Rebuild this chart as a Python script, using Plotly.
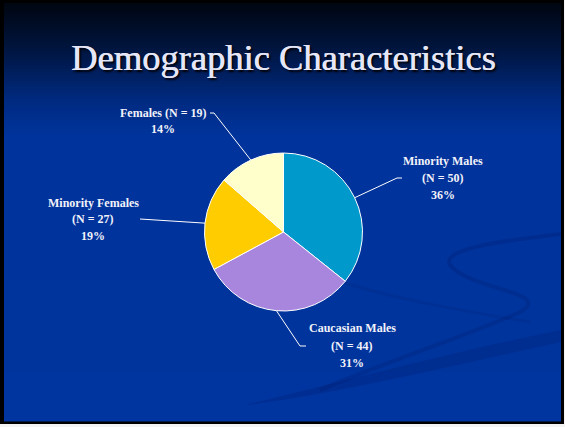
import plotly.graph_objects as go
import math

# ---- data ----
categories = ["Minority Males", "Caucasian Males", "Minority Females", "Females"]
counts = [50, 44, 27, 19]
colors = ["#0099CC", "#A986DE", "#FFCC00", "#FFFFCC"]
title_text = "Demographic Characteristics"

W, H = 565, 427
total = sum(counts)
pcts = [round(c / total * 100) for c in counts]

# pie geometry (pixels)
CX, CY, R = 283.5, 232.0, 79.0

def px(x):
    return x / W

def py(y):
    return 1 - y / H

fig = go.Figure()

fig.add_trace(go.Pie(
    labels=categories,
    values=counts,
    sort=False,
    direction="clockwise",
    rotation=0,
    marker=dict(colors=colors, line=dict(color="white", width=1)),
    textinfo="none",
    hoverinfo="label+value+percent",
    showlegend=False,
    domain=dict(x=[px(CX - R), px(CX + R)], y=[py(CY + R), py(CY - R)]),
))

shapes = []
# frame + gradient background
shapes.append(dict(type="rect", xref="paper", yref="paper", x0=0, x1=px(564), y0=py(424), y1=1,
                   fillcolor="black", line=dict(width=0), layer="below"))
stops = [(3, (0, 5, 16)), (50, (0, 21, 64)), (100, (0, 42, 128)), (135, (0, 51, 155)), (421, (0, 52, 158))]

def grad(y):
    for (y0, c0), (y1, c1) in zip(stops[:-1], stops[1:]):
        if y0 <= y <= y1:
            t = (y - y0) / (y1 - y0)
            return tuple(int(round(a + (b - a) * t)) for a, b in zip(c0, c1))
    return stops[-1][1]

step = 3
y = 3
while y < 421:
    y2 = min(y + step, 421)
    c = grad((y + y2) / 2)
    shapes.append(dict(type="rect", xref="paper", yref="paper", x0=px(4), x1=px(561),
                       y0=py(y2 + 0.5), y1=py(y), fillcolor="rgb(%d,%d,%d)" % c,
                       line=dict(width=0), layer="below"))
    y = y2

# subtle background swooshes
def path(pts, start="M"):
    s = "%s %f,%f" % (start, px(pts[0][0]), py(pts[0][1]))
    rest = pts[1:]
    for i in range(0, len(rest), 3):
        a, b, c = rest[i:i + 3]
        s += " C %f,%f %f,%f %f,%f" % (px(a[0]), py(a[1]), px(b[0]), py(b[1]), px(c[0]), py(c[1]))
    return s

sw = "rgba(0,25,100,0.22)"
shapes.append(dict(type="path", xref="paper", yref="paper", layer="below",
                   path=path([(245, 405), (330, 385), (450, 352), (561, 330)]) +
                   path([(561, 342), (450, 366), (330, 395), (245, 405)], start=" L") + " Z",
                   fillcolor=sw, line=dict(width=0)))
shapes.append(dict(type="path", xref="paper", yref="paper", layer="below",
                   path=path([(320, 390), (390, 360), (470, 335), (520, 312),
                              (555, 292), (470, 290), (450, 265),
                              (440, 248), (510, 240), (561, 234)]),
                   line=dict(color=sw, width=4)))
shapes.append(dict(type="path", xref="paper", yref="paper", layer="below",
                   path=path([(345, 283), (400, 300), (470, 312), (530, 322)]),
                   line=dict(color="rgba(0,25,100,0.15)", width=3)))

# leader lines from slice mid-angles
label_layout = [
    dict(cx=443, ys=[161, 178, 195], pts=[(397, 178), (402, 178)]),
    dict(cx=352, ys=[328, 346, 363], pts=[(300, 346), (306, 346)]),
    dict(cx=93, ys=[203, 219, 236], pts=[(140, 219)]),
    dict(cx=163, ys=[113, 129], pts=[(214, 113), (210, 113)]),
]
label_lines = [
    [categories[0], "(N = %d)" % counts[0], "%d%%" % pcts[0]],
    [categories[1], "(N = %d)" % counts[1], "%d%%" % pcts[1]],
    [categories[2], "(N = %d)" % counts[2], "%d%%" % pcts[2]],
    ["%s (N = %d)" % (categories[3], counts[3]), "%d%%" % pcts[3]],
]

annotations = []
cum = 0
for i, c in enumerate(counts):
    mid = (cum + c / 2) / total * 2 * math.pi
    cum += c
    ex = CX + R * math.sin(mid)
    ey = CY - R * math.cos(mid)
    pts = [(ex, ey)] + label_layout[i]["pts"]
    d = "M %f,%f" % (px(pts[0][0]), py(pts[0][1]))
    for p in pts[1:]:
        d += " L %f,%f" % (px(p[0]), py(p[1]))
    shapes.append(dict(type="path", xref="paper", yref="paper", path=d,
                       line=dict(color="white", width=1)))
    for txt, yy in zip(label_lines[i], label_layout[i]["ys"]):
        annotations.append(dict(text="<b>%s</b>" % txt, x=px(label_layout[i]["cx"]), y=py(yy),
                                xref="paper", yref="paper", showarrow=False,
                                xanchor="center", yanchor="middle",
                                font=dict(family="Liberation Serif", size=12, color="#F2F2FA")))

annotations.append(dict(text=title_text, x=px(283), y=py(57), xref="paper", yref="paper",
                        showarrow=False, xanchor="center", yanchor="middle",
                        font=dict(family="Liberation Serif", size=36.5, color="#E6E6F6",
                                  shadow="0.6px 0 0 #E6E6F6, 2px 2px 2px #000000")))

fig.update_layout(
    width=W, height=H,
    margin=dict(l=0, r=0, t=0, b=0),
    paper_bgcolor="#F4F4F4",
    plot_bgcolor="rgba(0,0,0,0)",
    shapes=shapes,
    annotations=annotations,
)

fig.write_html("out.html",
               config={"displayModeBar": False},
               post_script="document.body.style.margin='0';document.body.style.padding='0';"
                           "document.body.style.overflow='hidden';")
